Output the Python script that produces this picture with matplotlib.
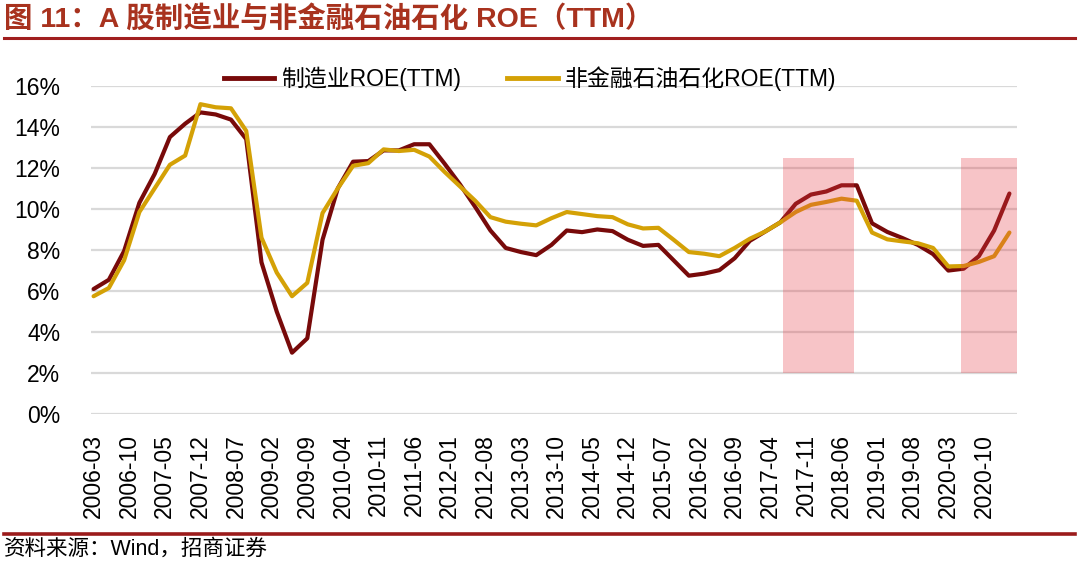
import matplotlib.pyplot as plt
from matplotlib.lines import Line2D

plt.rcParams['font.family'] = ['Liberation Sans', 'Noto Sans CJK SC', 'DejaVu Sans']

# quarterly observations (end of quarter)
dates = [
    "2006-03", "2006-06", "2006-09", "2006-12", "2007-03", "2007-06", "2007-09", "2007-12",
    "2008-03", "2008-06", "2008-09", "2008-12", "2009-03", "2009-06", "2009-09", "2009-12",
    "2010-03", "2010-06", "2010-09", "2010-12", "2011-03", "2011-06", "2011-09", "2011-12",
    "2012-03", "2012-06", "2012-09", "2012-12", "2013-03", "2013-06", "2013-09", "2013-12",
    "2014-03", "2014-06", "2014-09", "2014-12", "2015-03", "2015-06", "2015-09", "2015-12",
    "2016-03", "2016-06", "2016-09", "2016-12", "2017-03", "2017-06", "2017-09", "2017-12",
    "2018-03", "2018-06", "2018-09", "2018-12", "2019-03", "2019-06", "2019-09", "2019-12",
    "2020-03", "2020-06", "2020-09", "2020-12", "2021-03",
]

roe_mfg = [
    6.10, 6.55, 7.95, 10.30, 11.70, 13.50, 14.15, 14.70, 14.60, 14.35, 13.40, 7.40,
    5.00, 3.00, 3.70, 8.50, 11.00, 12.30, 12.33, 12.85, 12.85, 13.15, 13.15, 12.20,
    11.20, 10.10, 8.95, 8.10, 7.90, 7.75, 8.25, 8.95, 8.87, 9.00, 8.92, 8.50,
    8.20, 8.25, 7.50, 6.75, 6.85, 7.02, 7.60, 8.45, 8.90, 9.35, 10.25, 10.70,
    10.85, 11.15, 11.15, 9.30, 8.88, 8.58, 8.25, 7.80, 7.00, 7.09, 7.70, 8.95, 10.75,
]

roe_nonfin = [
    5.75, 6.15, 7.50, 9.85, 11.00, 12.15, 12.60, 15.10, 14.95, 14.90, 13.80, 8.60,
    6.90, 5.75, 6.40, 9.80, 11.00, 12.10, 12.23, 12.90, 12.82, 12.88, 12.55, 11.80,
    11.10, 10.40, 9.60, 9.38, 9.28, 9.20, 9.55, 9.85, 9.75, 9.65, 9.60, 9.25,
    9.05, 9.08, 8.50, 7.90, 7.82, 7.70, 8.10, 8.55, 8.90, 9.35, 9.85, 10.20,
    10.34, 10.50, 10.40, 8.85, 8.52, 8.42, 8.33, 8.10, 7.20, 7.22, 7.42, 7.70, 8.85,
]

tick_labels = [
    "2006-03", "2006-10", "2007-05", "2007-12", "2008-07", "2009-02", "2009-09",
    "2010-04", "2010-11", "2011-06", "2012-01", "2012-08", "2013-03", "2013-10",
    "2014-05", "2014-12", "2015-07", "2016-02", "2016-09", "2017-04", "2017-11",
    "2018-06", "2019-01", "2019-08", "2020-03", "2020-10",
]

# highlighted periods (first month, last month)
shade_periods = [("2017-07", "2018-08"), ("2020-06", "2021-04")]
shade_low, shade_high = 2, 12.5

first_month, last_month = "2006-03", "2021-04"


def month_idx(s):
    y, m = s.split("-")
    return (int(y) - 2006) * 12 + int(m) - 3


x = [month_idx(d) for d in dates]

fig = plt.figure(figsize=(10.8, 5.65), dpi=100)
ax = fig.add_axes([0.0843, 0.2667, 0.8574, 0.5816])

red = "#780A0A"
gold = "#D4A106"

ax.plot(x, roe_mfg, color=red, lw=3, zorder=2, solid_capstyle="round")
ax.plot(x, roe_nonfin, color=gold, lw=3, zorder=2, solid_capstyle="round")

# pink bands sit over the lines, as in the original
for a, b in shade_periods:
    ax.fill_between([month_idx(a) - 0.5, month_idx(b) + 0.5], shade_low, shade_high,
                    color="#E63C46", alpha=0.3, lw=0, zorder=3)

ax.set_xlim(month_idx(first_month) - 0.5, month_idx(last_month) + 0.5)
ax.set_ylim(0, 16)
ax.set_yticks(range(0, 17, 2))
ax.set_yticklabels([f"{v}%" for v in range(0, 17, 2)])
ax.set_xticks([month_idx(t) for t in tick_labels])
ax.set_xticklabels(tick_labels, rotation=90)
ax.tick_params(axis="y", length=0, pad=22, labelsize=16.5)
ax.tick_params(axis="x", length=0, pad=14, labelsize=16.5)
ax.grid(axis="y", color="#D9D9D9", lw=1.6, zorder=0)
ax.set_axisbelow(True)
for s in ax.spines.values():
    s.set_visible(False)

handles = [Line2D([], [], color=red, lw=3.5), Line2D([], [], color=gold, lw=3.5)]
ax.legend(handles, ["制造业ROE(TTM)", "非金融石油石化ROE(TTM)"], loc="center",
          bbox_to_anchor=(0.474, 1.022), ncol=2, frameon=False, fontsize=16.5,
          handlelength=2.2, handletextpad=0.3, columnspacing=2.0)

fig.text(0.004, 0.967, "图 11：A 股制造业与非金融石油石化 ROE（TTM）", color="#A8321E",
         fontsize=20.5, fontweight="bold", va="center", ha="left")
fig.add_artist(Line2D([0.004, 0.995], [0.933, 0.933], color="#A01E1E", lw=2.2))
fig.add_artist(Line2D([0.004, 0.995], [1 - 534 / 565, 1 - 534 / 565], color="#9B1B1B", lw=2.6))
fig.text(0.004, 1 - 549 / 565, "资料来源：Wind，招商证券", fontsize=15.5, va="center",
         ha="left", color="#000000")

fig.savefig("out.png", dpi=100)
